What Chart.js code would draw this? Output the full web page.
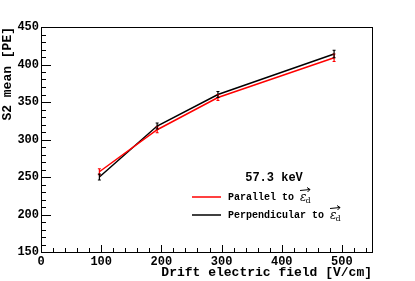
<!DOCTYPE html>
<html>
<head>
<meta charset="utf-8">
<script src="https://cdn.jsdelivr.net/npm/chart.js@4/dist/chart.umd.min.js"></script>
<style>
  html, body { margin: 0; padding: 0; background: #fff; }
  #wrap { width: 415px; height: 281px; }
</style>
</head>
<body>
<div id="wrap"><canvas id="s2Chart"></canvas></div>
<script>
// Data
const driftField = [97, 193, 294, 487];
const parallelS2 = [257, 313, 356, 409];
const parallelErr = [4, 4, 4, 5];
const perpS2 = [250, 318, 360, 414];
const perpErr = [4, 4, 4, 5];
const legendTitle = "57.3 keV";
const legendLabels = ["Parallel to", "Perpendicular to"];
const legendColors = ["#ff0000", "#000000"];

const FONT = "'Liberation Mono', 'DejaVu Sans Mono', monospace";

function toPoints(xs, ys) {
  return xs.map((x, i) => ({ x: x, y: ys[i] }));
}

// Draws the ROOT-like frame, inward ticks, error bars and legend
const rootStyle = {
  id: "rootStyle",
  afterDatasetsDraw(chart) {
    const { ctx, chartArea: a, scales } = chart;
    const xs = scales.x, ys = scales.y;
    ctx.save();

    // error bars
    const errs = [parallelErr, perpErr];
    chart.data.datasets.forEach((ds, d) => {
      ctx.strokeStyle = ds.borderColor;
      ctx.lineWidth = 1.2;
      ds.data.forEach((p, i) => {
        const px = xs.getPixelForValue(p.x);
        const y1 = ys.getPixelForValue(p.y - errs[d][i]);
        const y2 = ys.getPixelForValue(p.y + errs[d][i]);
        ctx.beginPath();
        ctx.moveTo(px, y1); ctx.lineTo(px, y2);
        ctx.moveTo(px - 1.5, y1); ctx.lineTo(px + 1.5, y1);
        ctx.moveTo(px - 1.5, y2); ctx.lineTo(px + 1.5, y2);
        ctx.stroke();
      });
    });

    // frame
    ctx.strokeStyle = "#000";
    ctx.lineWidth = 1;
    ctx.strokeRect(Math.round(a.left) + 0.5, Math.round(a.top) + 0.5,
      Math.round(a.right - a.left), Math.round(a.bottom - a.top));

    // y ticks (inside, left)
    ctx.beginPath();
    for (let v = ys.min; v <= ys.max; v += 10) {
      const py = Math.round(ys.getPixelForValue(v)) + 0.5;
      const len = (v % 50 === 0) ? 10 : 5;
      ctx.moveTo(a.left, py); ctx.lineTo(a.left + len, py);
    }
    // x ticks (inside, bottom)
    for (let v = xs.min; v <= xs.max; v += 20) {
      const px = Math.round(xs.getPixelForValue(v)) + 0.5;
      const len = (v % 100 === 0) ? 7 : 4;
      ctx.moveTo(px, a.bottom); ctx.lineTo(px, a.bottom - len);
    }
    ctx.stroke();

    // legend
    ctx.fillStyle = "#000";
    ctx.font = "bold 12px " + FONT;
    ctx.textAlign = "center";
    ctx.textBaseline = "middle";
    ctx.fillText(legendTitle, 274, 178);

    legendLabels.forEach((lab, i) => {
      const y = 197 + i * 18;
      ctx.strokeStyle = legendColors[i];
      ctx.lineWidth = 1.5;
      ctx.beginPath();
      ctx.moveTo(192, y); ctx.lineTo(221, y);
      ctx.stroke();

      ctx.fillStyle = "#000";
      ctx.font = "bold 10px " + FONT;
      ctx.textAlign = "left";
      ctx.fillText(lab, 228, y);
      const w = ctx.measureText(lab + " ").width;
      const ex = 228 + w;
      ctx.font = "italic 12px 'DejaVu Serif', serif";
      ctx.fillText("\u03b5", ex, y + 1);
      const ew = ctx.measureText("\u03b5").width;
      ctx.font = "8px 'DejaVu Serif', serif";
      ctx.fillText("d", ex + ew - 1, y + 4);
      // arrow over epsilon
      ctx.strokeStyle = "#000";
      ctx.lineWidth = 1;
      ctx.beginPath();
      ctx.moveTo(ex, y - 6.5); ctx.lineTo(ex + 10, y - 7.5);
      ctx.moveTo(ex + 10, y - 7.5); ctx.lineTo(ex + 7, y - 9.5);
      ctx.moveTo(ex + 10, y - 7.5); ctx.lineTo(ex + 7.5, y - 5);
      ctx.stroke();
    });

    ctx.restore();
  }
};

const ctx = document.getElementById("s2Chart").getContext("2d");
new Chart(ctx, {
  type: "line",
  data: {
    datasets: [
      {
        label: legendLabels[0],
        data: toPoints(driftField, parallelS2),
        borderColor: legendColors[0],
        borderWidth: 1.5,
        pointRadius: 0,
        tension: 0,
      },
      {
        label: legendLabels[1],
        data: toPoints(driftField, perpS2),
        borderColor: legendColors[1],
        borderWidth: 1.5,
        pointRadius: 0,
        tension: 0,
      },
    ],
  },
  options: {
    responsive: true,
    maintainAspectRatio: false,
    animation: false,
    layout: { padding: { top: 27, right: 43, left: 0, bottom: 0 } },
    plugins: { legend: { display: false }, tooltip: { enabled: false } },
    scales: {
      x: {
        type: "linear",
        min: 0,
        max: 550,
        grid: { display: false, drawTicks: false },
        border: { display: false },
        afterBuildTicks: (s) => { s.ticks = [0, 100, 200, 300, 400, 500].map((v) => ({ value: v })); },
        afterFit: (s) => { s.height = 29; },
        ticks: {
          color: "#000",
          padding: 3,
          maxRotation: 0,
          font: { family: FONT, size: 12, weight: "bold" },
        },
        title: {
          display: true,
          text: "Drift electric field [V/cm]",
          align: "end",
          color: "#000",
          padding: { top: 0, bottom: 0 },
          font: { family: FONT, size: 13, weight: "bold" },
        },
      },
      y: {
        min: 150,
        max: 450,
        grid: { display: false, drawTicks: false },
        border: { display: false },
        afterBuildTicks: (s) => { s.ticks = [150, 200, 250, 300, 350, 400, 450].map((v) => ({ value: v })); },
        afterFit: (s) => { s.width = 41; },
        ticks: {
          color: "#000",
          padding: 2,
          font: { family: FONT, size: 12, weight: "bold" },
        },
        title: {
          display: true,
          text: "S2 mean [PE]",
          align: "end",
          color: "#000",
          padding: { top: 0, bottom: 0 },
          font: { family: FONT, size: 13, weight: "bold" },
        },
      },
    },
  },
  plugins: [rootStyle],
});
</script>
</body>
</html>
